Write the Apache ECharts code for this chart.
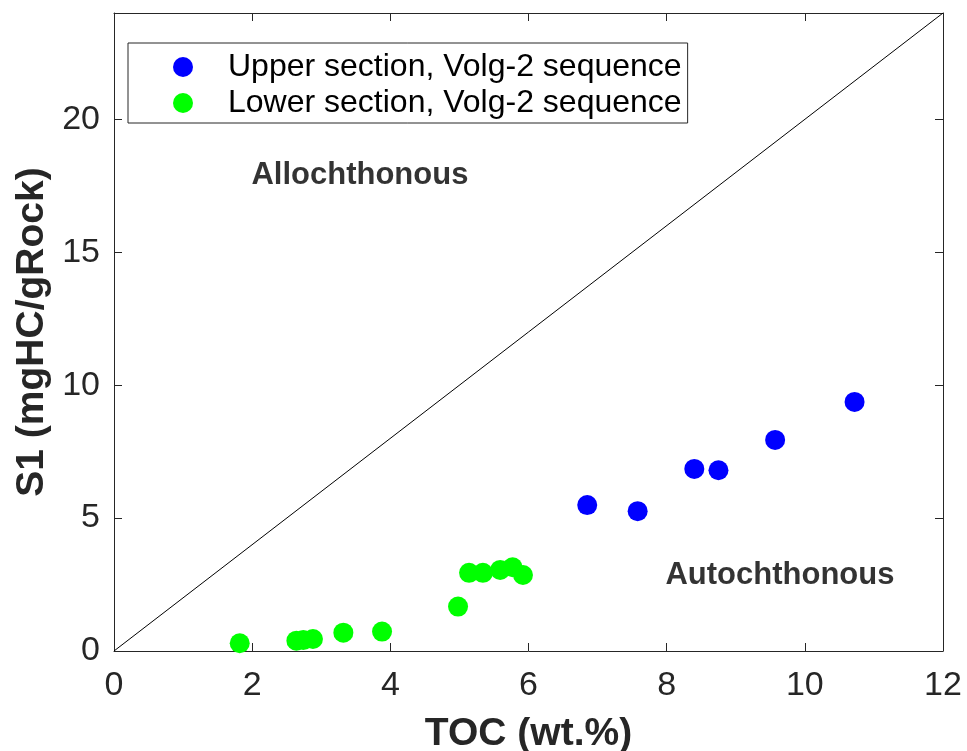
<!DOCTYPE html>
<html>
<head>
<meta charset="utf-8">
<script src="https://cdn.jsdelivr.net/npm/echarts@6/dist/echarts.min.js"></script>
<style>html,body{margin:0;padding:0;background:#fff}#c{width:967px;height:751px}</style>
</head>
<body>
<div id="c"></div>
<script>
const upperName = 'Upper section, Volg-2 sequence';
const lowerName = 'Lower section, Volg-2 sequence';
const upperTOC = [6.85, 7.58, 8.40, 8.75, 9.57, 10.72];
const upperS1  = [5.49, 5.26, 6.85, 6.80, 7.94, 9.37];
const lowerTOC = [1.82, 2.64, 2.74, 2.88, 3.32, 3.88, 4.98, 5.14, 5.34, 5.59, 5.77, 5.92];
const lowerS1  = [0.29, 0.39, 0.41, 0.45, 0.69, 0.73, 1.67, 2.94, 2.94, 3.05, 3.15, 2.86];
const lineTOC = [0, 12];
const lineS1  = [0, 24];
const noteText = ['Allochthonous', 'Autochthonous'];
const noteTOC = [3.56, 9.64];
const noteS1  = [17.9, 2.86];
const xTicks = [0, 2, 4, 6, 8, 10, 12];
const yTicks = [0, 5, 10, 15, 20];

const zip = (a, b) => a.map((v, i) => [v, b[i]]);
const FONT = '"Liberation Sans", Arial, Helvetica, sans-serif';
const AX = '#262626';

const chart = echarts.init(document.getElementById('c'));
const tickStyle = {show: true, inside: true, length: 8, lineStyle: {color: AX, width: 1}};
chart.setOption({
  animation: false,
  backgroundColor: '#fff',
  textStyle: {fontFamily: FONT},
  grid: {left: 114, right: 24, top: 13, bottom: 100, containLabel: false, outerBoundsMode: 'none'},
  legend: {
    data: [upperName, lowerName],
    orient: 'vertical',
    left: 128, top: 43,
    backgroundColor: '#fff',
    borderColor: AX, borderWidth: 1, borderRadius: 0,
    padding: [8, 6, 4, 45],
    itemWidth: 20, itemHeight: 20, itemGap: 4,
    icon: 'circle',
    textStyle: {fontFamily: FONT, fontSize: 32, lineHeight: 32, color: '#000', padding: [0, 0, 0, 30]}
  },
  xAxis: [{
    type: 'value', min: 0, max: 12, interval: 2,
    name: 'TOC (wt.%)', nameLocation: 'middle', nameGap: 64,
    nameTextStyle: {fontFamily: FONT, fontSize: 39, fontWeight: 'bold', color: AX},
    axisLine: {show: true, onZero: false, lineStyle: {color: AX, width: 1}},
    axisTick: tickStyle,
    axisLabel: {fontFamily: FONT, fontSize: 34, color: AX, margin: 18,
      formatter: v => xTicks.includes(v) ? String(v) : ''},
    splitLine: {show: false}
  }, {
    type: 'value', min: 0, max: 12, interval: 2, position: 'top',
    axisLine: {show: true, onZero: false, lineStyle: {color: AX, width: 1}},
    axisTick: tickStyle, axisLabel: {show: false}, splitLine: {show: false}
  }],
  yAxis: [{
    type: 'value', min: 0, max: 24, interval: 5,
    name: 'S1 (mgHC/gRock)', nameLocation: 'middle', nameGap: 61,
    nameTextStyle: {fontFamily: FONT, fontSize: 39, fontWeight: 'bold', color: AX},
    axisLine: {show: true, onZero: false, lineStyle: {color: AX, width: 1}},
    axisTick: tickStyle,
    axisLabel: {fontFamily: FONT, fontSize: 34, color: AX, margin: 14,
      formatter: v => yTicks.includes(v) ? String(v) : ''},
    splitLine: {show: false}
  }, {
    type: 'value', min: 0, max: 24, interval: 5, position: 'right',
    axisLine: {show: true, onZero: false, lineStyle: {color: AX, width: 1}},
    axisTick: tickStyle, axisLabel: {show: false}, splitLine: {show: false}
  }],
  series: [
    {
      type: 'line', data: zip(lineTOC, lineS1), symbol: 'none',
      lineStyle: {color: '#000', width: 1}, silent: true, z: 1
    },
    {
      name: upperName, type: 'scatter', data: zip(upperTOC, upperS1),
      symbol: 'circle', symbolSize: 20, itemStyle: {color: '#0000ff', opacity: 1}, z: 3
    },
    {
      name: lowerName, type: 'scatter', data: zip(lowerTOC, lowerS1),
      symbol: 'circle', symbolSize: 20, itemStyle: {color: '#00ff00', opacity: 1}, z: 3
    },
    {
      type: 'scatter', symbolSize: 0, silent: true, z: 4,
      data: noteText.map((t, i) => ({value: [noteTOC[i], noteS1[i]], name: t})),
      label: {show: true, position: 'inside', formatter: p => p.name,
        fontFamily: FONT, fontSize: 31, fontWeight: 'bold', color: '#000'}
    }
  ]
});
</script>
</body>
</html>
